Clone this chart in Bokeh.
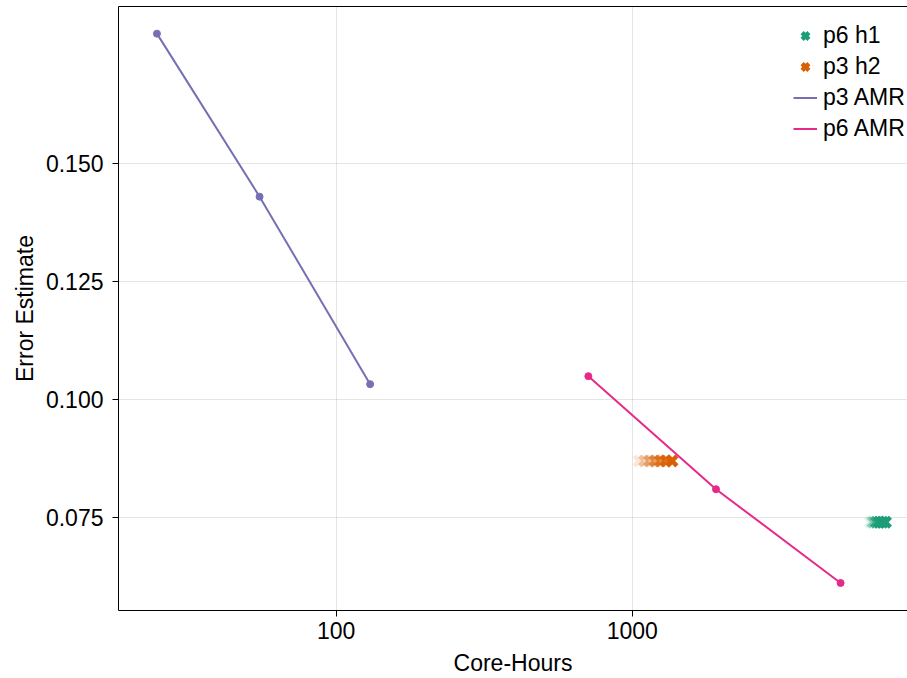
from bokeh.plotting import figure
from bokeh.models import (FixedTicker, PrintfTickFormatter, Legend, LegendItem,
                          LogAxis, Range1d, ColumnDataSource)
from bokeh.embed import file_html
from bokeh.resources import INLINE

# ---- data ----
p3_amr_x = [24.8, 55.1, 130.2]
p3_amr_y = [0.1776, 0.1430, 0.1032]
p6_amr_x = [711, 1919, 5058]
p6_amr_y = [0.1049, 0.0809, 0.0610]
p3_h2_x = [1056, 1100, 1145, 1195, 1245, 1300, 1362]
p3_h2_y = [0.0869, 0.0869, 0.0869, 0.0869, 0.0869, 0.0869, 0.0869]
p6_h1_x = [6380, 6520, 6680, 6840, 7000, 7170]
p6_h1_y = [0.0739, 0.0739, 0.0739, 0.0739, 0.0739, 0.0739]
x_ticks = [100, 1000]
y_ticks = [0.075, 0.100, 0.125, 0.150]

# styles
p3_h2_alpha = [0.15, 0.3, 0.45, 0.6, 0.75, 0.9, 1.0]
p6_h1_alpha = [0.15, 0.45, 0.8, 1.0, 1.0, 1.0]
GREEN, ORANGE, PURPLE, PINK = "#1b9e77", "#d95f02", "#7570b3", "#e7298a"
FONT = "Liberation Sans"
FS = "23px"

p = figure(width=907, height=678, x_axis_type="log",
           x_range=Range1d(18.39, 8511), y_range=Range1d(0.05516, 0.18336),
           output_backend="svg", toolbar_location=None,
           min_border_left=118, min_border_right=0, min_border_top=6,
           min_border_bottom=68)
p.background_fill_color = "white"
p.border_fill_color = "white"
p.outline_line_color = None

# crosses (fading)
def crosses(xs, ys, alphas, color):
    last = None
    for x, y, a in zip(xs, ys, alphas):
        src = ColumnDataSource(dict(x=[x], y=[y]))
        last = p.scatter("x", "y", source=src, marker="x", size=14,
                         line_width=4.5, line_color=color, line_alpha=a)
    return last

r_h1 = crosses(p6_h1_x, p6_h1_y, p6_h1_alpha, GREEN)
r_h2 = crosses(p3_h2_x, p3_h2_y, p3_h2_alpha, ORANGE)

r_p3 = p.line(p3_amr_x, p3_amr_y, line_color=PURPLE, line_width=2)
p.scatter(p3_amr_x, p3_amr_y, size=7, color=PURPLE)
r_p6 = p.line(p6_amr_x, p6_amr_y, line_color=PINK, line_width=2)
p.scatter(p6_amr_x, p6_amr_y, size=7, color=PINK)

# axes
for ax in (p.xaxis[0], p.yaxis[0]):
    ax.axis_line_color = "black"
    ax.axis_line_width = 1
    ax.major_tick_line_color = "black"
    ax.major_tick_out = 6
    ax.major_tick_in = 0
    ax.minor_tick_line_color = None
    ax.major_label_text_font = FONT
    ax.major_label_text_font_size = FS
    ax.major_label_text_color = "black"
    ax.axis_label_text_font = FONT
    ax.axis_label_text_font_size = FS
    ax.axis_label_text_font_style = "normal"
    ax.axis_label_text_color = "black"

p.xaxis.ticker = FixedTicker(ticks=x_ticks)
p.xaxis.formatter = PrintfTickFormatter(format="%d")
p.xaxis.axis_label = "Core-Hours"
p.xaxis.major_label_standoff = 5
p.xaxis.axis_label_standoff = 8

p.yaxis.ticker = FixedTicker(ticks=y_ticks)
p.yaxis.formatter = PrintfTickFormatter(format="%.3f")
p.yaxis.axis_label = "Error Estimate"
p.yaxis.major_label_standoff = 9
p.yaxis.axis_label_standoff = 5

top = LogAxis(ticker=FixedTicker(ticks=[]), axis_line_color="black",
              major_tick_line_color=None, minor_tick_line_color=None,
              major_label_text_font_size="0px", major_tick_out=0,
              major_label_standoff=0)
p.add_layout(top, "above")

p.xgrid.ticker = FixedTicker(ticks=x_ticks)
p.ygrid.ticker = FixedTicker(ticks=y_ticks)
for g in (p.xgrid[0], p.ygrid[0]):
    g.grid_line_color = "black"
    g.grid_line_alpha = 0.1
    g.grid_line_width = 1

legend = Legend(items=[
    LegendItem(label="p6 h1", renderers=[r_h1]),
    LegendItem(label="p3 h2", renderers=[r_h2]),
    LegendItem(label="p3 AMR", renderers=[r_p3]),
    LegendItem(label="p6 AMR", renderers=[r_p6]),
], location=(675, 468))
legend.label_text_font = FONT
legend.label_text_font_size = FS
legend.label_text_color = "black"
legend.border_line_color = None
legend.background_fill_alpha = 0
legend.padding = 0
legend.margin = 0
legend.spacing = 4
legend.glyph_width = 24
legend.glyph_height = 27
legend.label_height = 20
legend.label_standoff = 6
p.add_layout(legend, "center")

open("out.html", "w").write(file_html(p, INLINE))
